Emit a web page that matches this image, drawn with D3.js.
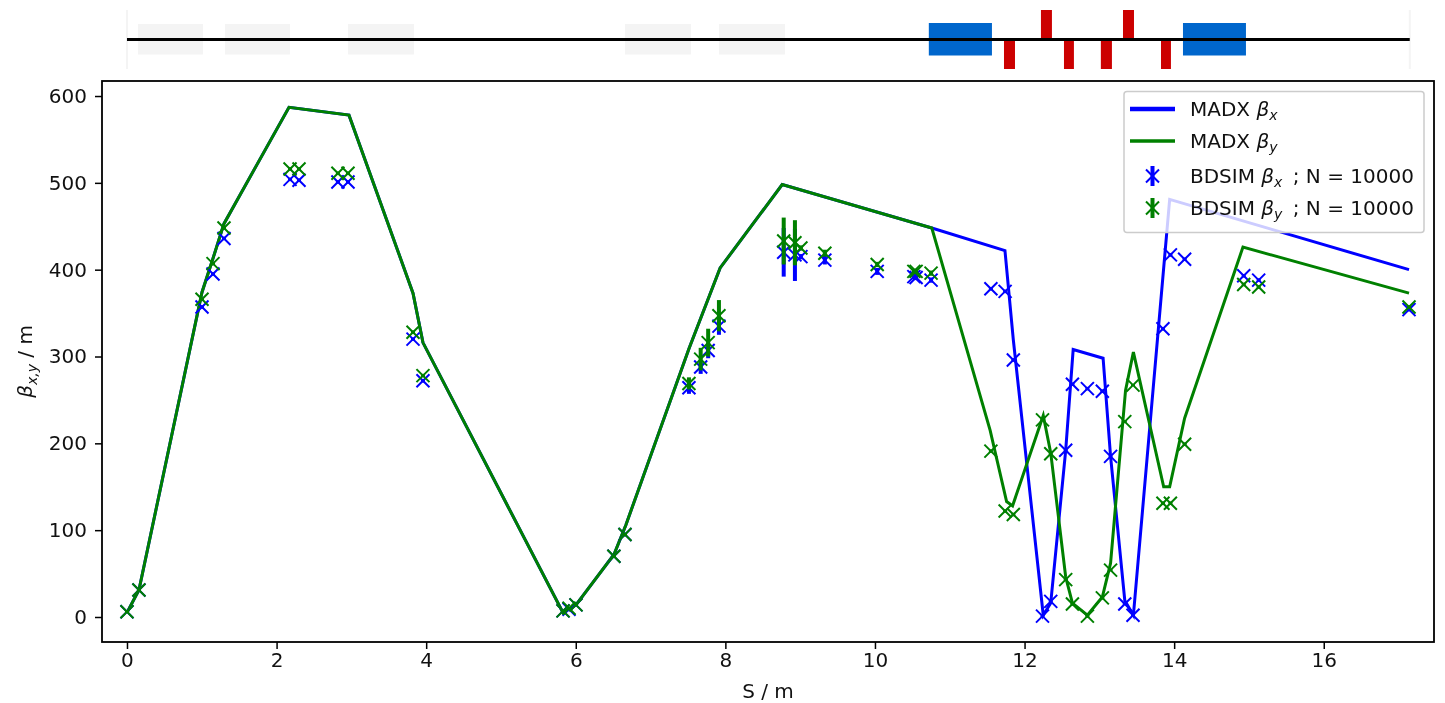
<!DOCTYPE html>
<html>
<head>
<meta charset="utf-8">
<script src="https://cdn.jsdelivr.net/npm/d3@7"></script>
<style>
  html, body { margin: 0; background: #fff; }
  svg { display: block; filter: blur(0.45px); }
  text { font-family: "DejaVu Sans", sans-serif; fill: #111; }
</style>
</head>
<body>
<div id="chart"></div>
<script>
// machine layout, [start, end] in metres
const drifts = [[0.147, 1.016], [1.31, 2.179], [2.955, 3.837], [6.658, 7.54], [7.914, 8.797]];
const dipoles = [[10.72, 11.564], [14.118, 14.96]];
const quadsUp = [[12.219, 12.366], [13.316, 13.463]];
const quadsDown = [[11.725, 11.872], [12.527, 12.66], [13.02, 13.168], [13.824, 13.957]];
const machineEnd = 17.15;

// MADX optics
const madxXs = [0, 0.16, 1.003, 1.15, 1.297, 2.166, 2.968, 3.824, 3.957, 5.829, 6.003, 6.511, 6.67, 7.513, 7.93, 8.76, 10.76,
  11.738, 11.85, 12.25, 12.35, 12.55, 12.65, 13.05, 13.15, 13.34, 13.455, 13.94, 17.14];
const madxBx = [5, 31, 374, 413, 453, 587, 578, 373, 316, 5, 14, 72, 106, 309, 402, 498, 448,
  422, 319, 2, 16, 192, 308, 298, 185, 19, 2, 481, 400];
const madxYs = [0, 0.16, 1.003, 1.15, 1.297, 2.166, 2.968, 3.824, 3.957, 5.829, 6.003, 6.511, 6.67, 7.513, 7.93, 8.76, 10.76,
  11.54, 11.76, 11.84, 12.25, 12.35, 12.55, 12.64, 12.84, 13.04, 13.15, 13.35, 13.455, 13.86, 13.94, 14.14, 14.92, 17.14];
const madxBy = [5, 31, 374, 413, 453, 587, 578, 373, 316, 5, 14, 72, 106, 309, 402, 498, 448,
  215, 133, 128, 232, 189, 46, 16, 2, 23, 62, 261, 305, 150, 150, 229, 426, 373];

// BDSIM points
const bdsimS = [0, 0.16, 1.003, 1.15, 1.297, 2.18, 2.3, 2.82, 2.955, 3.824, 3.957, 5.83, 5.91, 6.003, 6.51, 6.658, 7.513, 7.67, 7.77, 7.914,
  8.78, 8.93, 9.01, 9.33, 10.03, 10.52, 10.55, 10.75, 11.55, 11.74, 11.85, 12.24, 12.35, 12.55, 12.64, 12.84, 13.04, 13.15, 13.34, 13.45,
  13.85, 13.95, 14.14, 14.93, 15.13, 17.14];
const bdsimBx = [6, 31, 357, 395, 436, 504, 503, 501, 501, 320, 272, 7, 9, 14, 70, 95, 264, 288, 307, 335,
  420, 417, 415, 411, 398, 392, 391, 388, 378, 375, 296, 1, 18, 192, 268, 263, 260, 185, 15, 2,
  332, 417, 412, 393, 388, 354];
const bdsimBy = [6, 31, 366, 407, 448, 516, 516, 511, 511, 328, 278, 7, 10, 14, 70, 95, 269, 297, 316, 347,
  433, 431, 425, 419, 406, 398, 398, 396, 191, 122, 118, 227, 188, 43, 15, 1, 22, 54, 225, 267,
  131, 131, 199, 383, 380, 357];
const bdsimErrX = [1, 1, 2, 2, 2, 2, 2, 2, 2, 2, 2, 1, 1, 1, 1, 2, 7, 8, 9, 10,
  28, 30, 3, 5, 4, 3, 3, 3, 2, 2, 2, 1, 1, 1, 2, 2, 2, 1, 1, 1,
  2, 2, 2, 2, 2, 2];
const bdsimErrY = [1, 1, 2, 2, 2, 2, 2, 2, 2, 2, 2, 1, 1, 1, 1, 2, 7, 13, 16, 18,
  27, 26, 3, 4, 3, 3, 3, 3, 2, 2, 2, 1, 1, 1, 2, 2, 2, 1, 1, 1,
  2, 2, 2, 2, 2, 2];

const xTicks = [0, 2, 4, 6, 8, 10, 12, 14, 16];
const yTicks = [0, 100, 200, 300, 400, 500, 600];

const width = 1445, height = 703;
const left = 102, right = 1434, top_ = 81, bottom = 642;
const blue = "#0000ff", green = "#008000";

const x = d3.scaleLinear().domain([-0.334, 17.474]).range([left, right]);
const y = d3.scaleLinear().domain([-28.8, 617.3]).range([bottom, top_]);

const svg = d3.select("#chart").append("svg")
  .attr("width", width)
  .attr("height", height);

// machine diagram on top
const machine = svg.append("g");
const mid = 39.5;

function boxes(data, y0, h, color) {
  machine.append("g").selectAll("rect")
    .data(data)
    .join("rect")
    .attr("x", d => x(d[0]))
    .attr("width", d => x(d[1]) - x(d[0]))
    .attr("y", y0)
    .attr("height", h)
    .attr("fill", color);
}

machine.selectAll("line.edge")
  .data([0, machineEnd])
  .join("line")
  .attr("class", "edge")
  .attr("x1", d => x(d)).attr("x2", d => x(d))
  .attr("y1", 10).attr("y2", 69)
  .attr("stroke", "#f4f4f4")
  .attr("stroke-width", 2);
boxes(drifts, 24, 30.5, "#f4f4f4");
boxes(dipoles, 23, 32.5, "#0066cc");
boxes(quadsUp, 10, 29.5, "#cc0000");
boxes(quadsDown, 39.5, 29.5, "#cc0000");
machine.append("line")
  .attr("x1", x(0)).attr("x2", x(machineEnd))
  .attr("y1", mid).attr("y2", mid)
  .attr("stroke", "#000")
  .attr("stroke-width", 3);

// axes
const xAxis = svg.append("g")
  .attr("transform", `translate(0,${bottom})`)
  .call(d3.axisBottom(x).tickValues(xTicks).tickSize(7).tickPadding(4));
const yAxis = svg.append("g")
  .attr("transform", `translate(${left},0)`)
  .call(d3.axisLeft(y).tickValues(yTicks).tickSize(7).tickPadding(8));
[xAxis, yAxis].forEach(a => {
  a.select(".domain").remove();
  a.selectAll("line").attr("stroke", "#000").attr("stroke-width", 1.5);
  a.selectAll("text").style("font-size", "20px").attr("fill", "#111");
});

// optics lines
const plot = svg.append("g");
const line = d3.line().x(d => x(d[0])).y(d => y(d[1]));

plot.append("path")
  .datum(madxXs.map((s, i) => [s, madxBx[i]]))
  .attr("d", line)
  .attr("fill", "none").attr("stroke", blue).attr("stroke-width", 3);
plot.append("path")
  .datum(madxYs.map((s, i) => [s, madxBy[i]]))
  .attr("d", line)
  .attr("fill", "none").attr("stroke", green).attr("stroke-width", 3);

function crossPath(r) {
  return `M${-r},${-r}L${r},${r}M${-r},${r}L${r},${-r}`;
}

function points(vals, errs, color) {
  const g = plot.append("g");
  g.selectAll("line")
    .data(bdsimS)
    .join("line")
    .attr("x1", d => x(d)).attr("x2", d => x(d))
    .attr("y1", (d, i) => y(vals[i] - errs[i]))
    .attr("y2", (d, i) => y(vals[i] + errs[i]))
    .attr("stroke", color)
    .attr("stroke-width", 4);
  g.selectAll("path")
    .data(bdsimS)
    .join("path")
    .attr("transform", (d, i) => `translate(${x(d)},${y(vals[i])})`)
    .attr("d", crossPath(6.5))
    .attr("fill", "none")
    .attr("stroke", color)
    .attr("stroke-width", 2);
}
points(bdsimBx, bdsimErrX, blue);
points(bdsimBy, bdsimErrY, green);

// frame
svg.append("rect")
  .attr("x", left).attr("y", top_)
  .attr("width", right - left).attr("height", bottom - top_)
  .attr("fill", "none")
  .attr("stroke", "#000")
  .attr("stroke-width", 1.8);

// axis labels
svg.append("text")
  .attr("x", (left + right) / 2).attr("y", 698)
  .attr("text-anchor", "middle")
  .style("font-size", "20px")
  .text("S / m");

const yLabel = svg.append("text")
  .attr("transform", "translate(32,361.5) rotate(-90)")
  .attr("text-anchor", "middle")
  .style("font-size", "20px");
yLabel.append("tspan").style("font-style", "italic").text("β");
yLabel.append("tspan").attr("dy", 5).style("font-style", "italic").style("font-size", "14px").text("x,y");
yLabel.append("tspan").attr("dy", -5).text(" / m");

// legend
const legend = svg.append("g");
legend.append("rect")
  .attr("x", 1124).attr("y", 91.5)
  .attr("width", 300).attr("height", 141)
  .attr("rx", 3)
  .attr("fill", "#fff").attr("fill-opacity", 0.8)
  .attr("stroke", "#ccc").attr("stroke-width", 1.5);

const legendRows = [
  { pre: "MADX ", sub: "x", post: "", color: blue, kind: "line", w: 4.5, cy: 109 },
  { pre: "MADX ", sub: "y", post: "", color: green, kind: "line", w: 3.5, cy: 141 },
  { pre: "BDSIM ", sub: "x", post: " ; N = 10000", color: blue, kind: "point", cy: 176 },
  { pre: "BDSIM ", sub: "y", post: " ; N = 10000", color: green, kind: "point", cy: 208 }
];

legendRows.forEach(r => {
  if (r.kind === "line") {
    legend.append("line")
      .attr("x1", 1130).attr("x2", 1175)
      .attr("y1", r.cy).attr("y2", r.cy)
      .attr("stroke", r.color).attr("stroke-width", r.w);
  } else {
    legend.append("line")
      .attr("x1", 1152.5).attr("x2", 1152.5)
      .attr("y1", r.cy - 10).attr("y2", r.cy + 10)
      .attr("stroke", r.color).attr("stroke-width", 4);
    legend.append("path")
      .attr("transform", `translate(1152.5,${r.cy})`)
      .attr("d", crossPath(6.5))
      .attr("fill", "none").attr("stroke", r.color).attr("stroke-width", 2);
  }
  const t = legend.append("text")
    .attr("x", 1190).attr("y", r.cy + 7)
    .style("font-size", "20px");
  t.append("tspan").text(r.pre);
  t.append("tspan").style("font-style", "italic").text("β");
  t.append("tspan").attr("dy", 4).style("font-style", "italic").style("font-size", "14px").text(r.sub);
  if (r.post) t.append("tspan").attr("dy", -4).attr("dx", 4).text(r.post);
});
</script>
</body>
</html>
